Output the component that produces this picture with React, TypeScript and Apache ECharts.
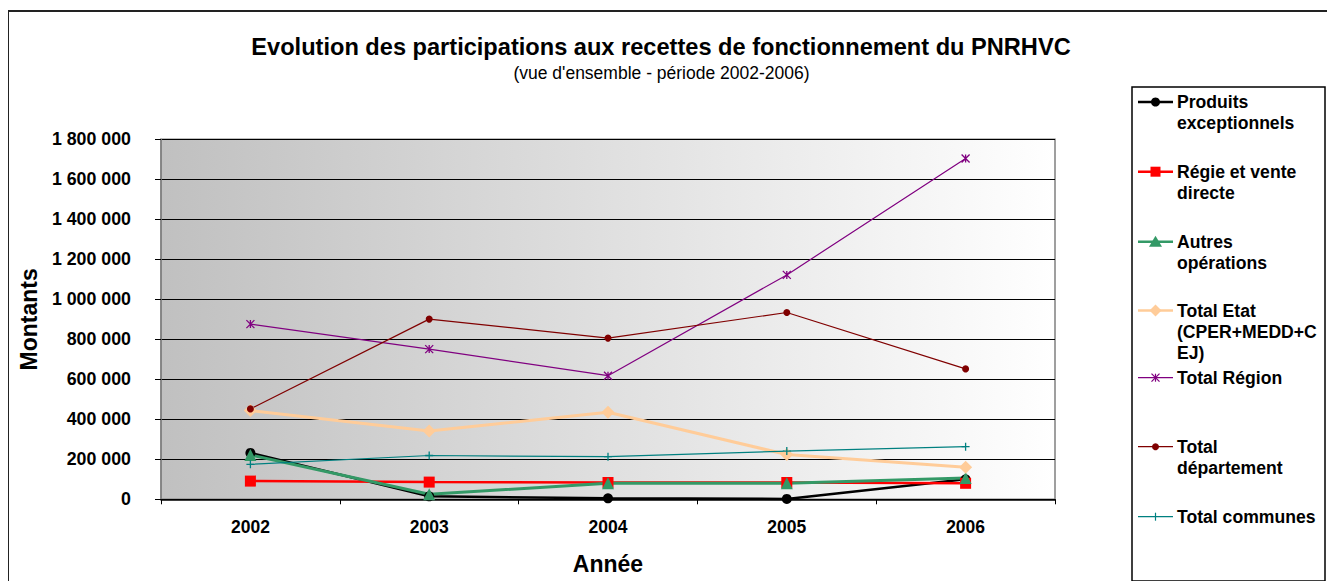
import React, { useEffect, useRef } from "react";
import * as echarts from "echarts";

const categories = ["2002", "2003", "2004", "2005", "2006"];
const produitsExceptionnels = [232000, 15000, 5000, 2000, 100000];
const regieVenteDirecte = [91000, 86000, 84000, 84000, 80000];
const autresOperations = [222000, 25000, 80000, 80000, 106000];
const totalEtat = [444000, 341000, 435000, 224000, 160000];
const totalRegion = [876000, 751000, 618000, 1122000, 1704000];
const totalDepartement = [452000, 901000, 806000, 934000, 652000];
const totalCommunes = [175000, 219000, 213000, 241000, 263000];

const seriesNames = [
  "Produits exceptionnels",
  "Régie et vente directe",
  "Autres opérations",
  "Total Etat (CPER+MEDD+CEJ)",
  "Total Région",
  "Total département",
  "Total communes",
];
const legendLabels = [
  "Produits\nexceptionnels",
  "Régie et vente\ndirecte",
  "Autres\nopérations",
  "Total Etat\n(CPER+MEDD+C\nEJ)",
  "Total Région",
  "Total\ndépartement",
  "Total communes",
];
const colors = ["#000000", "#FF0000", "#339966", "#FFCC99", "#800080", "#800000", "#008080"];
const FONT = "Liberation Sans";

const ASTERISK = "path://M0,0L10,10M10,0L0,10M5,0L5,10";
const PLUS = "path://M0,5L10,5M5,0L5,10";

function fmt(v: number) {
  return String(v).replace(/\B(?=(\d{3})+(?!\d))/g, " ");
}

export default function App() {
  const ref = useRef<HTMLDivElement>(null);
  useEffect(() => {
    if (!ref.current) return;
    const chart = echarts.init(ref.current, undefined, { renderer: "svg" });
    const data = [
      produitsExceptionnels,
      regieVenteDirecte,
      autresOperations,
      totalEtat,
      totalRegion,
      totalDepartement,
      totalCommunes,
    ];
    const symbols = ["circle", "rect", "triangle", "diamond", ASTERISK, "circle", PLUS];
    const symbolSizes = [10, 11, 12, 13, 8, 7, 8];
    const widths = [2.5, 2.5, 3, 3, 1.2, 1.2, 1.2];
    const series = data.map((d, i) => {
      const stroked = i === 4 || i === 6;
      return {
        name: seriesNames[i],
        type: "line",
        data: d,
        symbol: symbols[i],
        symbolSize: symbolSizes[i],
        showAllSymbol: true,
        lineStyle: { color: colors[i], width: widths[i] },
        itemStyle: {
          color: stroked ? "none" : colors[i],
          borderColor: colors[i],
          borderWidth: stroked ? 1.3 : 0,
        },
        emphasis: { disabled: true },
      };
    });

    // legend graphics
    const legendY = [94, 163.7, 233.7, 302.5, 369.7, 438.7, 508.7];
    const lx0 = 1130, lx1 = 1165, cx = 1147.5, tx = 1169;
    const legendEls: any[] = [];
    legendY.forEach((y, i) => {
      const c = colors[i];
      legendEls.push({
        type: "line",
        shape: { x1: lx0, y1: y, x2: lx1, y2: y },
        style: { stroke: c, lineWidth: widths[i] > 2 ? 2.5 : 1.3 },
      });
      if (i === 0) legendEls.push({ type: "circle", shape: { cx, cy: y, r: 4.5 }, style: { fill: c } });
      if (i === 1) legendEls.push({ type: "rect", shape: { x: cx - 5, y: y - 5, width: 10, height: 10 }, style: { fill: c } });
      if (i === 2) legendEls.push({ type: "polygon", shape: { points: [[cx, y - 6], [cx + 6.5, y + 5], [cx - 6.5, y + 5]] }, style: { fill: c } });
      if (i === 3) legendEls.push({ type: "polygon", shape: { points: [[cx, y - 6], [cx + 6, y], [cx, y + 6], [cx - 6, y]] }, style: { fill: c } });
      if (i === 4) {
        legendEls.push({ type: "line", shape: { x1: cx - 4, y1: y - 4, x2: cx + 4, y2: y + 4 }, style: { stroke: c, lineWidth: 1.2 } });
        legendEls.push({ type: "line", shape: { x1: cx + 4, y1: y - 4, x2: cx - 4, y2: y + 4 }, style: { stroke: c, lineWidth: 1.2 } });
        legendEls.push({ type: "line", shape: { x1: cx, y1: y - 4, x2: cx, y2: y + 4 }, style: { stroke: c, lineWidth: 1.2 } });
      }
      if (i === 5) legendEls.push({ type: "circle", shape: { cx, cy: y, r: 3.5 }, style: { fill: c } });
      if (i === 6) legendEls.push({ type: "line", shape: { x1: cx, y1: y - 4, x2: cx, y2: y + 4 }, style: { stroke: c, lineWidth: 1.2 } });
      legendEls.push({
        type: "text",
        x: tx,
        y: y - 10.5,
        style: {
          text: legendLabels[i],
          fill: "#000",
          fontFamily: FONT,
          fontWeight: "bold",
          fontSize: 17.6,
          lineHeight: 21,
          align: "left",
          verticalAlign: "top",
        },
      });
    });

    chart.setOption({
      animation: false,
      backgroundColor: "#fff",
      textStyle: { fontFamily: FONT },
      grid: {
        left: 153,
        top: 131.3,
        width: 894,
        height: 360,
        show: true,
        borderColor: "#808080",
        borderWidth: 1.5,
        backgroundColor: new echarts.graphic.LinearGradient(0, 0, 1, 0, [
          { offset: 0, color: "#c0c0c0" },
          { offset: 1, color: "#ffffff" },
        ]),
      },
      xAxis: {
        type: "category",
        data: categories,
        boundaryGap: true,
        name: "Année",
        nameLocation: "middle",
        nameGap: 53,
        nameTextStyle: { fontFamily: FONT, fontWeight: "bold", fontSize: 23, color: "#000" },
        axisLine: { lineStyle: { color: "#000", width: 1.5 } },
        axisTick: { show: true, length: 5, lineStyle: { color: "#000" } },
        axisLabel: { margin: 19, fontFamily: FONT, fontWeight: "bold", fontSize: 17.5, color: "#000" },
        splitLine: { show: false },
      },
      yAxis: {
        type: "value",
        min: 0,
        max: 1800000,
        interval: 200000,
        name: "Montants",
        nameLocation: "middle",
        nameGap: 119,
        nameTextStyle: { fontFamily: FONT, fontWeight: "bold", fontSize: 23, color: "#000" },
        axisLine: { show: true, lineStyle: { color: "#808080", width: 1.5 } },
        axisTick: { show: true, length: 6, lineStyle: { color: "#000" } },
        axisLabel: { margin: 30, fontFamily: FONT, fontWeight: "bold", fontSize: 17.8, color: "#000", formatter: (v: number) => fmt(v) },
        splitLine: { show: true, lineStyle: { color: "#000", width: 1 } },
      },
      series,
      graphic: [
        {
          type: "line",
          shape: { x1: 0, y1: 3, x2: 1327, y2: 3 },
          style: { stroke: "#222", lineWidth: 2 },
          silent: true,
        },
        {
          type: "line",
          shape: { x1: 0, y1: 2, x2: 0, y2: 573 },
          style: { stroke: "#222", lineWidth: 2 },
          silent: true,
        },
        {
          type: "text",
          x: 653,
          y: 39,
          style: {
            text: "Evolution des participations aux recettes de fonctionnement du PNRHVC",
            fill: "#000",
            fontFamily: FONT,
            fontWeight: "bold",
            fontSize: 23.6,
            align: "center",
            verticalAlign: "middle",
          },
        },
        {
          type: "text",
          x: 653.5,
          y: 65,
          style: {
            text: "(vue d'ensemble - période 2002-2006)",
            fill: "#000",
            fontFamily: FONT,
            fontSize: 17.5,
            align: "center",
            verticalAlign: "middle",
          },
        },
        {
          type: "rect",
          shape: { x: 1124, y: 79, width: 193, height: 494 },
          style: { fill: "#fff", stroke: "#000", lineWidth: 1.5 },
        },
        ...legendEls,
      ],
    });
    return () => chart.dispose();
  }, []);
  return <div ref={ref} style={{ width: 1327, height: 573 }} />;
}
